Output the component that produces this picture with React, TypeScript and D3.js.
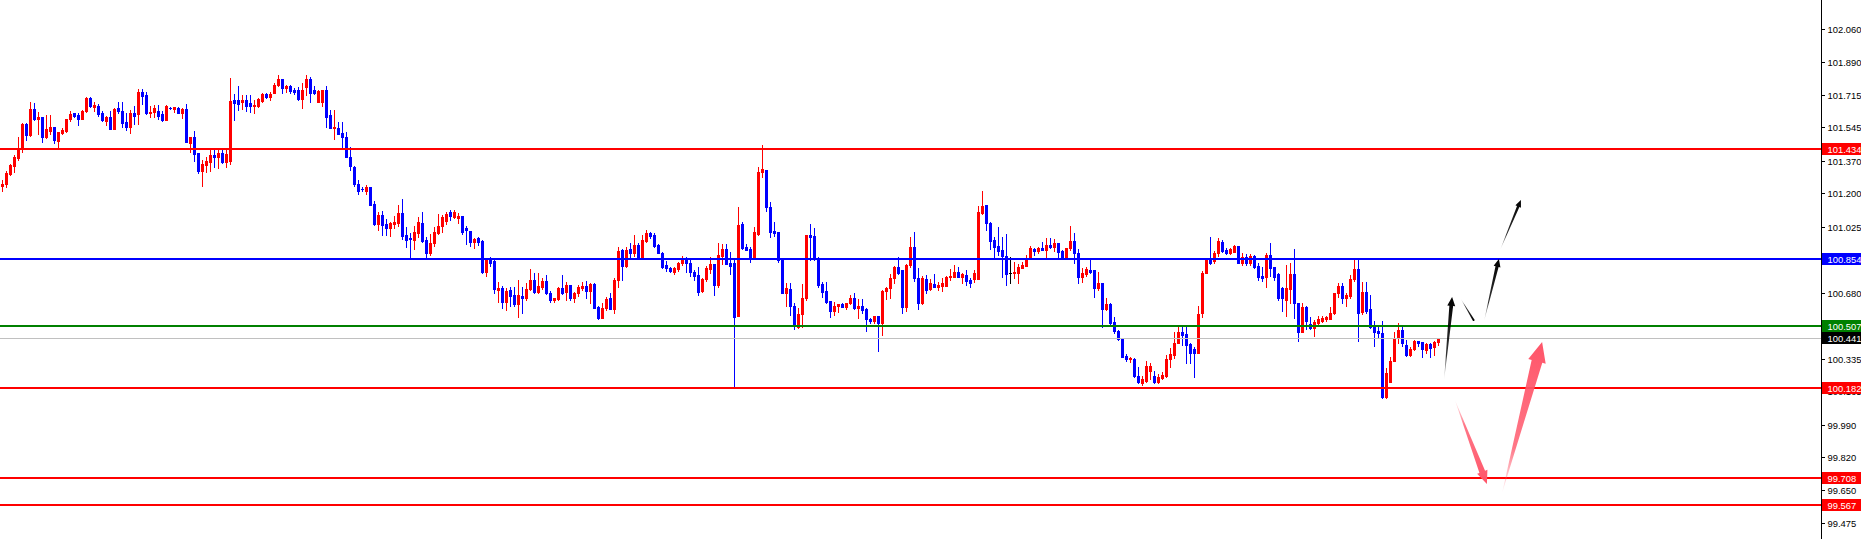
import React from "react";
import * as d3 from "d3";

// ---- OHLC data ----
const opens = [
  101.239, 101.249, 101.301, 101.343, 101.385, 101.437, 101.563, 101.505, 101.642, 101.589,
  101.600, 101.495, 101.527, 101.547, 101.474, 101.516, 101.527, 101.589, 101.621, 101.610,
  101.589, 101.631, 101.699, 101.652, 101.657, 101.621, 101.579, 101.600, 101.537, 101.647,
  101.631, 101.574, 101.547, 101.621, 101.615, 101.731, 101.715, 101.621, 101.626, 101.631,
  101.615, 101.584, 101.647, 101.642, 101.647, 101.621, 101.642, 101.464, 101.495, 101.411,
  101.317, 101.349, 101.364, 101.401, 101.390, 101.411, 101.364, 101.370, 101.689, 101.689,
  101.678, 101.689, 101.673, 101.657, 101.657, 101.683, 101.720, 101.704, 101.725, 101.767,
  101.799, 101.752, 101.762, 101.741, 101.741, 101.694, 101.757, 101.799, 101.741, 101.678,
  101.678, 101.741, 101.610, 101.542, 101.542, 101.516, 101.495, 101.390, 101.338, 101.249,
  101.223, 101.212, 101.233, 101.144, 101.040, 101.087, 101.040, 101.019, 101.040, 101.045,
  101.097, 100.982, 100.966, 100.956, 100.993, 101.045, 100.956, 100.888, 100.940, 100.993,
  101.029, 101.056, 101.103, 101.076, 101.071, 101.082, 101.019, 101.003, 100.946, 100.966,
  100.951, 100.789, 100.862, 100.846, 100.694, 100.705, 100.632, 100.694, 100.668, 100.621,
  100.663, 100.653, 100.700, 100.747, 100.684, 100.710, 100.741, 100.679, 100.642, 100.647,
  100.705, 100.684, 100.721, 100.653, 100.679, 100.705, 100.715, 100.689, 100.726, 100.606,
  100.548, 100.600, 100.653, 100.595, 100.747, 100.904, 100.820, 100.909, 100.888, 100.930,
  100.867, 100.951, 100.993, 100.982, 100.930, 100.888, 100.825, 100.810, 100.789, 100.804,
  100.836, 100.862, 100.836, 100.789, 100.773, 100.689, 100.752, 100.804, 100.830, 100.721,
  100.872, 100.909, 100.836, 100.836, 100.558, 101.040, 100.919, 100.909, 100.867, 100.987,
  101.312, 101.322, 101.129, 101.003, 100.998, 100.857, 100.679, 100.700, 100.611, 100.501,
  100.569, 100.653, 100.982, 100.977, 100.862, 100.726, 100.689, 100.637, 100.585, 100.611,
  100.621, 100.606, 100.626, 100.653, 100.600, 100.611, 100.595, 100.543, 100.532, 100.558,
  100.522, 100.689, 100.705, 100.757, 100.815, 100.799, 100.606, 100.825, 100.919, 100.757,
  100.626, 100.752, 100.700, 100.726, 100.710, 100.715, 100.715, 100.762, 100.762, 100.789,
  100.762, 100.773, 100.747, 100.752, 100.752, 101.097, 101.139, 101.045, 100.956, 100.925,
  100.904, 100.872, 100.783, 100.783, 100.783, 100.810, 100.820, 100.867, 100.909, 100.899,
  100.914, 100.904, 100.930, 100.919, 100.940, 100.899, 100.867, 100.914, 100.951, 100.888,
  100.763, 100.778, 100.799, 100.799, 100.705, 100.731, 100.595, 100.621, 100.527, 100.480,
  100.443, 100.349, 100.333, 100.333, 100.244, 100.208, 100.218, 100.270, 100.244, 100.213,
  100.234, 100.244, 100.333, 100.354, 100.417, 100.475, 100.464, 100.412, 100.386, 100.365,
  100.574, 100.783, 100.862, 100.846, 100.888, 100.946, 100.904, 100.888, 100.893, 100.925,
  100.836, 100.867, 100.836, 100.872, 100.820, 100.768, 100.763, 100.878, 100.815, 100.778,
  100.705, 100.642, 100.700, 100.778, 100.626, 100.475, 100.606, 100.517, 100.496, 100.522,
  100.532, 100.543, 100.543, 100.574, 100.679, 100.715, 100.653, 100.663, 100.752, 100.804,
  100.580, 100.684, 100.595, 100.501, 100.480, 100.469, 100.134, 100.213, 100.323, 100.443,
  100.485, 100.407, 100.354, 100.386, 100.428, 100.422, 100.380, 100.412, 100.396, 100.422,
];

const highs = [
  101.270, 101.317, 101.354, 101.401, 101.495, 101.568, 101.568, 101.678, 101.673, 101.626,
  101.600, 101.610, 101.610, 101.547, 101.521, 101.542, 101.589, 101.631, 101.621, 101.621,
  101.636, 101.704, 101.704, 101.678, 101.668, 101.631, 101.605, 101.631, 101.647, 101.678,
  101.678, 101.621, 101.636, 101.657, 101.746, 101.746, 101.731, 101.657, 101.663, 101.663,
  101.631, 101.663, 101.652, 101.652, 101.652, 101.647, 101.668, 101.495, 101.527, 101.411,
  101.375, 101.390, 101.432, 101.427, 101.432, 101.432, 101.427, 101.804, 101.720, 101.762,
  101.715, 101.715, 101.715, 101.689, 101.699, 101.725, 101.725, 101.731, 101.778, 101.820,
  101.799, 101.767, 101.767, 101.752, 101.757, 101.778, 101.820, 101.809, 101.762, 101.741,
  101.741, 101.762, 101.636, 101.636, 101.574, 101.574, 101.521, 101.443, 101.343, 101.270,
  101.233, 101.244, 101.233, 101.160, 101.103, 101.108, 101.066, 101.050, 101.082, 101.139,
  101.171, 101.024, 100.993, 101.029, 101.076, 101.103, 100.972, 100.987, 101.024, 101.092,
  101.087, 101.103, 101.113, 101.113, 101.097, 101.082, 101.029, 101.003, 100.966, 100.972,
  100.956, 100.862, 100.867, 100.862, 100.736, 100.715, 100.705, 100.710, 100.710, 100.747,
  100.710, 100.731, 100.804, 100.783, 100.783, 100.757, 100.773, 100.689, 100.653, 100.710,
  100.773, 100.736, 100.721, 100.684, 100.721, 100.736, 100.741, 100.731, 100.731, 100.611,
  100.626, 100.658, 100.679, 100.757, 100.919, 100.909, 100.919, 100.940, 100.982, 100.940,
  100.982, 101.008, 100.998, 100.993, 100.935, 100.893, 100.846, 100.815, 100.815, 100.841,
  100.872, 100.867, 100.851, 100.799, 100.815, 100.757, 100.820, 100.867, 100.830, 100.940,
  100.935, 100.935, 100.893, 100.862, 101.129, 101.050, 100.935, 100.919, 101.024, 101.338,
  101.453, 101.322, 101.155, 101.050, 100.998, 100.862, 100.731, 100.731, 100.626, 100.600,
  100.726, 100.982, 101.040, 101.019, 100.867, 100.736, 100.736, 100.637, 100.632, 100.621,
  100.626, 100.626, 100.668, 100.679, 100.647, 100.647, 100.600, 100.548, 100.558, 100.558,
  100.694, 100.710, 100.778, 100.820, 100.867, 100.799, 100.830, 100.972, 100.998, 100.810,
  100.768, 100.773, 100.752, 100.778, 100.736, 100.757, 100.768, 100.804, 100.825, 100.815,
  100.783, 100.799, 100.757, 100.799, 101.134, 101.212, 101.139, 101.050, 100.972, 101.024,
  100.972, 100.987, 100.867, 100.841, 100.830, 100.841, 100.878, 100.925, 100.914, 100.919,
  100.946, 100.966, 100.966, 100.961, 100.940, 100.904, 100.914, 101.029, 100.993, 100.909,
  100.810, 100.815, 100.857, 100.799, 100.789, 100.731, 100.653, 100.626, 100.553, 100.485,
  100.443, 100.359, 100.344, 100.339, 100.292, 100.244, 100.323, 100.312, 100.270, 100.255,
  100.265, 100.354, 100.391, 100.475, 100.511, 100.506, 100.506, 100.417, 100.396, 100.611,
  100.794, 100.862, 100.972, 100.899, 100.966, 100.956, 100.914, 100.914, 100.930, 100.925,
  100.888, 100.883, 100.883, 100.878, 100.836, 100.815, 100.888, 100.940, 100.815, 100.783,
  100.710, 100.825, 100.836, 100.909, 100.626, 100.626, 100.611, 100.553, 100.537, 100.558,
  100.558, 100.558, 100.606, 100.679, 100.731, 100.731, 100.679, 100.773, 100.857, 100.851,
  100.736, 100.736, 100.668, 100.532, 100.501, 100.532, 100.286, 100.344, 100.475, 100.522,
  100.511, 100.433, 100.396, 100.433, 100.428, 100.422, 100.417, 100.417, 100.428, 100.443,
];

const lows = [
  101.212, 101.233, 101.296, 101.312, 101.375, 101.417, 101.479, 101.500, 101.584, 101.511,
  101.469, 101.490, 101.511, 101.464, 101.432, 101.511, 101.521, 101.579, 101.600, 101.558,
  101.589, 101.626, 101.652, 101.631, 101.605, 101.579, 101.558, 101.537, 101.537, 101.621,
  101.547, 101.532, 101.516, 101.563, 101.563, 101.668, 101.615, 101.600, 101.600, 101.589,
  101.579, 101.584, 101.642, 101.626, 101.621, 101.594, 101.469, 101.417, 101.370, 101.307,
  101.239, 101.312, 101.317, 101.338, 101.333, 101.359, 101.338, 101.354, 101.584, 101.636,
  101.642, 101.631, 101.626, 101.621, 101.652, 101.678, 101.699, 101.689, 101.725, 101.762,
  101.725, 101.731, 101.725, 101.720, 101.689, 101.647, 101.715, 101.678, 101.720, 101.678,
  101.657, 101.547, 101.542, 101.485, 101.511, 101.443, 101.390, 101.322, 101.239, 101.197,
  101.212, 101.197, 101.139, 101.035, 101.008, 100.982, 100.982, 100.977, 101.019, 101.029,
  100.961, 100.919, 100.867, 100.909, 100.972, 100.946, 100.867, 100.878, 100.925, 100.987,
  100.998, 101.040, 101.061, 101.071, 101.045, 100.987, 100.935, 100.925, 100.914, 100.930,
  100.783, 100.768, 100.820, 100.679, 100.632, 100.600, 100.590, 100.611, 100.611, 100.553,
  100.574, 100.642, 100.694, 100.679, 100.679, 100.700, 100.673, 100.632, 100.632, 100.642,
  100.673, 100.642, 100.642, 100.632, 100.663, 100.694, 100.653, 100.626, 100.600, 100.543,
  100.548, 100.590, 100.595, 100.574, 100.710, 100.747, 100.815, 100.867, 100.872, 100.862,
  100.862, 100.946, 100.966, 100.919, 100.888, 100.810, 100.794, 100.789, 100.778, 100.794,
  100.825, 100.789, 100.768, 100.747, 100.668, 100.684, 100.741, 100.783, 100.668, 100.710,
  100.830, 100.830, 100.778, 100.187, 100.558, 100.909, 100.904, 100.841, 100.867, 100.982,
  101.286, 101.108, 100.972, 100.977, 100.841, 100.679, 100.611, 100.564, 100.490, 100.496,
  100.501, 100.642, 100.851, 100.851, 100.710, 100.658, 100.626, 100.553, 100.564, 100.580,
  100.606, 100.595, 100.621, 100.595, 100.548, 100.574, 100.480, 100.522, 100.522, 100.375,
  100.459, 100.647, 100.653, 100.731, 100.778, 100.574, 100.585, 100.815, 100.741, 100.595,
  100.621, 100.679, 100.694, 100.710, 100.694, 100.689, 100.715, 100.747, 100.762, 100.762,
  100.731, 100.721, 100.710, 100.736, 100.752, 101.092, 101.008, 100.909, 100.862, 100.878,
  100.762, 100.721, 100.731, 100.757, 100.731, 100.810, 100.820, 100.867, 100.878, 100.888,
  100.904, 100.862, 100.914, 100.899, 100.867, 100.867, 100.867, 100.904, 100.836, 100.731,
  100.736, 100.768, 100.783, 100.658, 100.694, 100.501, 100.590, 100.511, 100.469, 100.433,
  100.344, 100.323, 100.318, 100.239, 100.208, 100.197, 100.213, 100.229, 100.208, 100.208,
  100.229, 100.239, 100.292, 100.339, 100.417, 100.407, 100.312, 100.312, 100.239, 100.365,
  100.553, 100.783, 100.830, 100.836, 100.872, 100.893, 100.883, 100.883, 100.893, 100.836,
  100.825, 100.825, 100.825, 100.810, 100.747, 100.741, 100.710, 100.768, 100.747, 100.642,
  100.585, 100.559, 100.626, 100.548, 100.428, 100.475, 100.490, 100.490, 100.454, 100.517,
  100.527, 100.532, 100.543, 100.569, 100.658, 100.626, 100.611, 100.653, 100.741, 100.428,
  100.569, 100.574, 100.496, 100.401, 100.449, 100.129, 100.129, 100.213, 100.323, 100.417,
  100.401, 100.349, 100.349, 100.380, 100.401, 100.344, 100.365, 100.344, 100.354, 100.407,
];

const closes = [
  101.249, 101.307, 101.349, 101.390, 101.437, 101.563, 101.505, 101.642, 101.589, 101.600,
  101.495, 101.537, 101.547, 101.479, 101.521, 101.532, 101.589, 101.615, 101.605, 101.589,
  101.631, 101.699, 101.657, 101.663, 101.615, 101.584, 101.600, 101.537, 101.642, 101.631,
  101.568, 101.547, 101.621, 101.605, 101.731, 101.710, 101.621, 101.626, 101.647, 101.605,
  101.584, 101.657, 101.645, 101.652, 101.621, 101.642, 101.469, 101.495, 101.406, 101.317,
  101.354, 101.370, 101.401, 101.390, 101.411, 101.364, 101.406, 101.683, 101.673, 101.668,
  101.689, 101.657, 101.657, 101.663, 101.694, 101.720, 101.704, 101.720, 101.767, 101.799,
  101.752, 101.762, 101.736, 101.731, 101.694, 101.741, 101.799, 101.725, 101.725, 101.736,
  101.741, 101.600, 101.542, 101.547, 101.511, 101.495, 101.390, 101.343, 101.249, 101.212,
  101.221, 101.233, 101.139, 101.040, 101.087, 101.035, 101.019, 101.045, 101.050, 101.097,
  100.977, 100.956, 100.961, 100.998, 101.050, 100.951, 100.888, 100.940, 100.998, 101.029,
  101.076, 101.092, 101.082, 101.103, 101.082, 100.998, 101.008, 100.946, 100.961, 100.946,
  100.789, 100.857, 100.836, 100.700, 100.705, 100.632, 100.689, 100.663, 100.621, 100.668,
  100.653, 100.700, 100.747, 100.684, 100.715, 100.741, 100.679, 100.642, 100.653, 100.705,
  100.679, 100.721, 100.653, 100.679, 100.710, 100.715, 100.689, 100.726, 100.600, 100.548,
  100.600, 100.647, 100.595, 100.747, 100.899, 100.820, 100.904, 100.888, 100.930, 100.867,
  100.956, 100.993, 100.977, 100.925, 100.888, 100.815, 100.810, 100.794, 100.810, 100.836,
  100.862, 100.836, 100.789, 100.768, 100.684, 100.752, 100.810, 100.830, 100.721, 100.878,
  100.909, 100.830, 100.820, 100.553, 101.035, 100.914, 100.904, 100.867, 100.998, 101.312,
  101.328, 101.129, 100.998, 100.993, 100.851, 100.679, 100.705, 100.611, 100.506, 100.569,
  100.653, 100.982, 100.972, 100.857, 100.721, 100.684, 100.632, 100.585, 100.611, 100.621,
  100.606, 100.626, 100.653, 100.600, 100.611, 100.590, 100.543, 100.532, 100.558, 100.522,
  100.689, 100.705, 100.757, 100.815, 100.783, 100.606, 100.825, 100.919, 100.757, 100.626,
  100.757, 100.694, 100.731, 100.710, 100.721, 100.731, 100.762, 100.768, 100.789, 100.762,
  100.778, 100.741, 100.731, 100.783, 101.103, 101.134, 101.045, 100.951, 100.919, 100.899,
  100.872, 100.778, 100.783, 100.789, 100.815, 100.825, 100.857, 100.914, 100.899, 100.914,
  100.904, 100.930, 100.919, 100.940, 100.893, 100.867, 100.914, 100.951, 100.888, 100.763,
  100.783, 100.804, 100.789, 100.705, 100.731, 100.595, 100.621, 100.522, 100.480, 100.438,
  100.344, 100.333, 100.339, 100.244, 100.213, 100.229, 100.297, 100.297, 100.213, 100.239,
  100.250, 100.333, 100.359, 100.417, 100.475, 100.459, 100.407, 100.365, 100.365, 100.569,
  100.783, 100.862, 100.836, 100.888, 100.951, 100.899, 100.888, 100.909, 100.925, 100.836,
  100.867, 100.836, 100.872, 100.815, 100.763, 100.757, 100.878, 100.810, 100.763, 100.653,
  100.653, 100.705, 100.778, 100.626, 100.475, 100.606, 100.532, 100.496, 100.527, 100.543,
  100.548, 100.553, 100.574, 100.679, 100.715, 100.653, 100.668, 100.752, 100.804, 100.574,
  100.684, 100.585, 100.501, 100.475, 100.469, 100.134, 100.260, 100.323, 100.438, 100.485,
  100.417, 100.354, 100.386, 100.428, 100.417, 100.386, 100.412, 100.391, 100.422, 100.441,
];

// price axis tick labels
const tickValues = [
  102.06, 101.89, 101.715, 101.545, 101.37, 101.2, 101.025, 100.855,
  100.68, 100.51, 100.335, 100.165, 99.99, 99.82, 99.65, 99.475,
];

// horizontal level lines
const levelPrices = [101.434, 100.854, 100.507, 100.182, 99.708, 99.567];
const levelKinds = ["red", "blue", "green", "red", "red", "red"];
const currentPrice = 100.441;

// projection arrows: [tailIndex, tailPrice, tipIndex, tipPrice]
const arrowPoints = [
  [360.4, 100.223, 362.4, 100.658],
  [364.6, 100.647, 367.9, 100.532],
  [370.4, 100.532, 374.1, 100.857],
  [374.4, 100.904, 379.6, 101.165],
  [363.1, 100.119, 371.1, 99.679],
  [374.9, 99.632, 384.9, 100.422],
];
const arrowKinds = ["black", "black", "black", "black", "pink", "pink"];

const W = 1861;
const H = 539;
const AXIS_X = 1821;

const kindColor: Record<string, string> = {
  red: "#ff0000",
  blue: "#0000ff",
  green: "#008000",
  black: "#000000",
  pink: "#ff5569",
};

const arrowSizes = [
  { sw: 3.8, hw: 8, hl: 9 },
  { sw: 2, hw: 2, hl: 0.5 },
  { sw: 3.2, hw: 7, hl: 8 },
  { sw: 2.6, hw: 6, hl: 7 },
  { sw: 6, hw: 11, hl: 13 },
  { sw: 11, hw: 18, hl: 20 },
];

function fmt(v: number) {
  return v.toFixed(3);
}

export default function App() {
  const n = opens.length;
  const x = d3.scaleLinear().domain([0, n - 1]).range([2.5, 2.5 + 4 * (n - 1)]);
  const y = d3.scaleLinear().domain([99.391, 102.212]).range([H, 0]);

  const candles = d3.range(n).map((i) => {
    const o = opens[i], h = highs[i], l = lows[i], c = closes[i];
    const cx = x(i);
    const color = c > o ? "#ff0000" : c < o ? "#0000ff" : "#000000";
    const yh = Math.round(y(h));
    const yl = Math.round(y(l));
    const yt = Math.round(y(Math.max(o, c)));
    const yb = Math.round(y(Math.min(o, c)));
    return (
      <g key={i} fill={color}>
        <rect x={cx - 0.5} y={yh} width={1} height={Math.max(1, yl - yh + 1)} />
        <rect x={cx - 1.5} y={yt} width={3} height={Math.max(1, yb - yt + 1)} />
      </g>
    );
  });

  const arrows = arrowPoints.map((a, k) => {
    const [ti, tp, hi, hp] = a;
    const tx = x(ti), ty = y(tp), hx = x(hi), hy = y(hp);
    const dx = hx - tx, dy = hy - ty;
    const len = Math.hypot(dx, dy);
    const ux = dx / len, uy = dy / len;
    const nx = -uy, ny = ux;
    const { sw, hw, hl } = arrowSizes[k];
    const bx = hx - ux * hl, by = hy - uy * hl;
    const pts = [
      [tx, ty],
      [bx + (nx * sw) / 2, by + (ny * sw) / 2],
      [bx + (nx * hw) / 2, by + (ny * hw) / 2],
      [hx, hy],
      [bx - (nx * hw) / 2, by - (ny * hw) / 2],
      [bx - (nx * sw) / 2, by - (ny * sw) / 2],
    ];
    const col = kindColor[arrowKinds[k]];
    const gid = `ag${k}`;
    return (
      <g key={k}>
        <defs>
          <linearGradient id={gid} gradientUnits="userSpaceOnUse" x1={tx} y1={ty} x2={hx} y2={hy}>
            <stop offset="0" stopColor={col} stopOpacity={0.05} />
            <stop offset="0.3" stopColor={col} stopOpacity={0.8} />
            <stop offset="1" stopColor={col} stopOpacity={1} />
          </linearGradient>
        </defs>
        <polygon points={pts.map((p) => p.join(",")).join(" ")} fill={`url(#${gid})`} />
      </g>
    );
  });

  const font = "'Liberation Sans', Arial, sans-serif";

  return (
    <div style={{ position: "absolute", left: 0, top: 0 }}>
      <svg width={W} height={H} style={{ display: "block", background: "#ffffff" }}>
        <rect x={0} y={0} width={W} height={H} fill="#ffffff" />
        <g shapeRendering="crispEdges">{candles}</g>

        {/* current price line */}
        <rect x={0} y={Math.round(y(currentPrice))} width={AXIS_X} height={1} fill="#c0c0c0" shapeRendering="crispEdges" />

        {/* level lines */}
        <g shapeRendering="crispEdges">
          {levelPrices.map((p, k) => (
            <rect key={k} x={0} y={Math.round(y(p)) - 1} width={AXIS_X} height={2} fill={kindColor[levelKinds[k]]} />
          ))}
        </g>

        {arrows}

        {/* price axis */}
        <rect x={AXIS_X} y={0} width={1} height={H} fill="#000" shapeRendering="crispEdges" />
        <g fontFamily={font} fontSize={9.4} fill="#000">
          {tickValues.map((v) => {
            const ty = Math.round(y(v));
            return (
              <g key={v}>
                <rect x={AXIS_X} y={ty} width={4} height={1} fill="#000" shapeRendering="crispEdges" />
                <text x={1827.5} y={ty + 3.5}>{fmt(v)}</text>
              </g>
            );
          })}
        </g>

        {/* level labels */}
        <g fontFamily={font} fontSize={9.4}>
          {levelPrices.map((p, k) => {
            const ty = Math.round(y(p));
            return (
              <g key={k}>
                <rect x={AXIS_X + 1} y={ty - 6} width={W - AXIS_X - 1} height={12} fill={kindColor[levelKinds[k]]} shapeRendering="crispEdges" />
                <text x={1827.5} y={ty + 3.5} fill="#ffffff">{fmt(p)}</text>
              </g>
            );
          })}
          <g>
            <rect x={AXIS_X + 1} y={Math.round(y(currentPrice)) - 6} width={W - AXIS_X - 1} height={12} fill="#000000" shapeRendering="crispEdges" />
            <text x={1827.5} y={Math.round(y(currentPrice)) + 3.5} fill="#ffffff">{fmt(currentPrice)}</text>
          </g>
        </g>
      </svg>
    </div>
  );
}
